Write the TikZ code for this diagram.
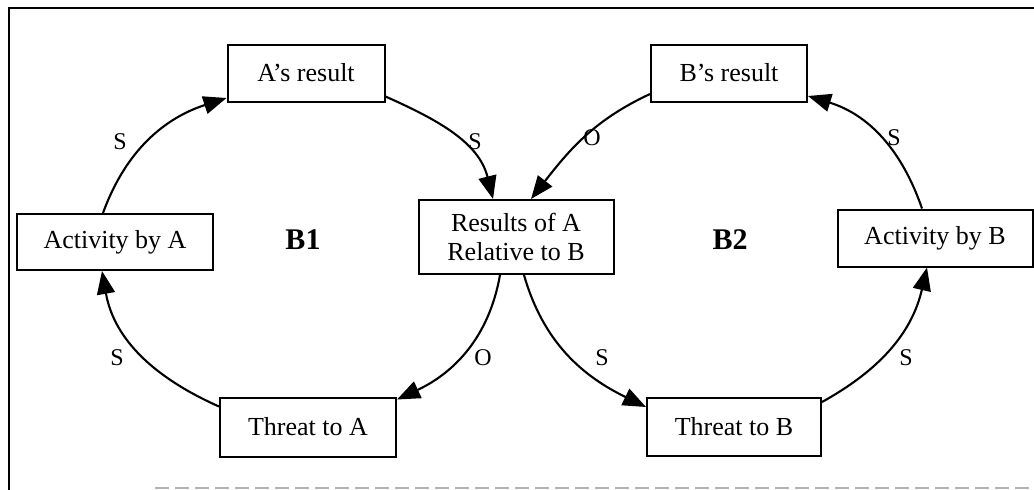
\documentclass[tikz,border=0pt]{standalone}
\usepackage{fontspec}
\setmainfont{Liberation Serif}
\usetikzlibrary{arrows.meta}
\begin{document}
\begin{tikzpicture}[x=1pt,y=1pt,
  box/.style={draw,line width=2pt,inner sep=0pt,align=center,
    font=\fontsize{26}{29}\selectfont},
  link/.style={line width=2.1pt,-{Triangle[length=23pt,width=18pt]}},
  pol/.style={font=\fontsize{24}{26}\selectfont},
  loopname/.style={font=\fontsize{30}{32}\selectfont\bfseries}]
\useasboundingbox (0,0) rectangle (1034,-490);
% frame
\draw[line width=1.8pt] (9,-490) -- (9,-8) -- (1034,-8);
\draw[gray!60,line width=1.8pt,dash pattern=on 14pt off 6pt] (155,-488) -- (1034,-488);

% variables
\node[box,minimum width=157pt,minimum height=57pt] (ares) at (306,-73) {A’s result};
\node[box,minimum width=156pt,minimum height=57pt] (bres) at (729,-73) {B’s result};
\node[box,minimum width=196pt,minimum height=56pt] (actA) at (115,-242) {Activity by A};
\node[box,minimum width=195pt,minimum height=57pt] (actB) at (935,-238) {Activity by B};
\node[box,minimum width=195pt,minimum height=74pt] (res) at (516,-237) {Results of A\\Relative to B};
\node[box,minimum width=176pt,minimum height=59pt] (thrA) at (308,-427) {Threat to A};
\node[box,minimum width=174pt,minimum height=58pt] (thrB) at (734,-427) {Threat to B};

% loop names
\node[loopname] (b1) at (303,-240) {B1};
\node[loopname] (b2) at (730,-240) {B2};

% loop B1
\draw[link] ([xshift=-12pt]actA.north) to[out=70,in=198] ([yshift=4.5pt]ares.south west);
\draw[link] ([yshift=6pt]ares.south east) to[out=-24,in=104] ([xshift=-23pt]res.north);
\draw[link] ([xshift=-16pt]res.south) to[out=-100,in=25] ([yshift=-3pt]thrA.north east);
\draw[link] ([yshift=-10pt]thrA.north west) to[out=156,in=-80] ([xshift=-13pt]actA.south);

% loop B2
\draw[link] ([yshift=8.5pt]bres.south west) to[out=205,in=52] ([xshift=15pt]res.north);
\draw[link] ([xshift=-13pt]actB.north) to[out=109,in=-17] ([yshift=6.5pt]bres.south east);
\draw[link] ([xshift=8pt]res.south) to[out=-74,in=154] ([yshift=-10pt]thrB.north west);
\draw[link] ([yshift=-5pt]thrB.north east) to[out=29,in=-103] ([xshift=-8pt]actB.south);

% link polarities
\node[pol] (p1) at (120,-142) {S};
\node[pol] (p2) at (475,-142) {S};
\node[pol] (p3) at (483,-358) {O};
\node[pol] (p4) at (117,-358) {S};
\node[pol] (p5) at (592,-138) {O};
\node[pol] (p6) at (894,-138) {S};
\node[pol] (p7) at (602,-358) {S};
\node[pol] (p8) at (906,-358) {S};
\end{tikzpicture}
\end{document}
